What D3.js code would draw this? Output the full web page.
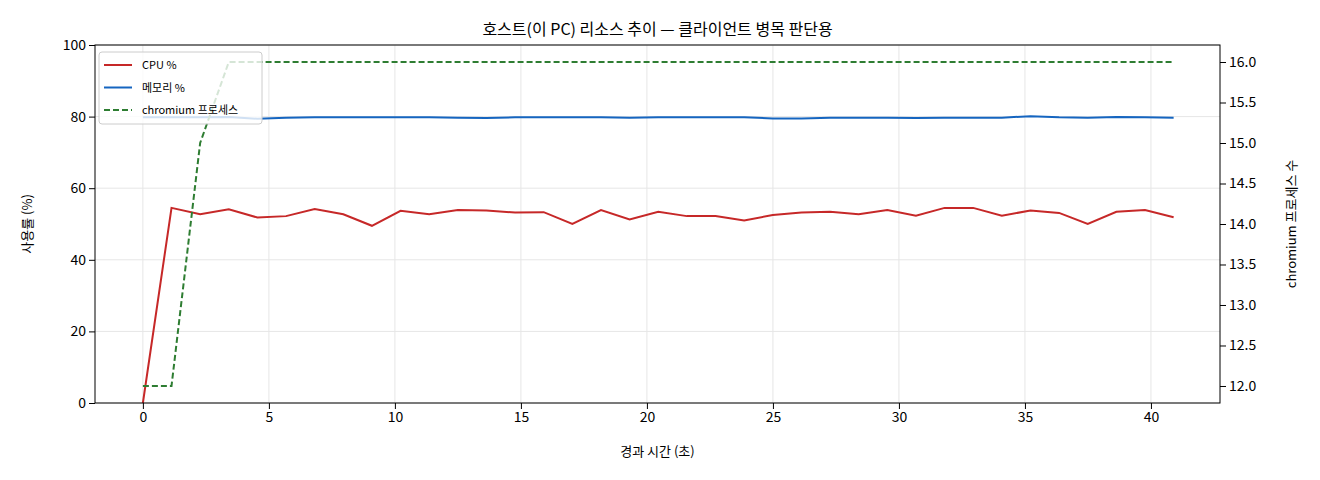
<!DOCTYPE html>
<html><head><meta charset="utf-8">
<script src="https://cdn.jsdelivr.net/npm/d3@7"></script>
<style>body{margin:0;background:#fff}text{font-family:"Noto Sans CJK KR","DejaVu Sans",sans-serif}</style>
</head><body><svg id="c" width="1320" height="480"></svg>
<script>
const step = 40.9/36;
const cpu = [0,54.5,52.7,54.1,51.8,52.2,54.2,52.7,49.5,53.7,52.7,53.9,53.8,53.2,53.3,50.0,53.9,51.3,53.4,52.2,52.2,51.0,52.5,53.2,53.4,52.7,53.9,52.3,54.5,54.5,52.3,53.8,53.1,50.0,53.4,53.9,51.9];
const mem = [79.8,79.8,79.8,79.9,79.4,79.7,79.8,79.8,79.8,79.8,79.8,79.7,79.6,79.8,79.8,79.8,79.8,79.7,79.8,79.8,79.8,79.8,79.5,79.5,79.7,79.7,79.7,79.6,79.7,79.7,79.7,80.1,79.8,79.7,79.9,79.8,79.7];
const procs = [12,12,15,16,16,16,16,16,16,16,16,16,16,16,16,16,16,16,16,16,16,16,16,16,16,16,16,16,16,16,16,16,16,16,16,16,16];
const xTicks = [0,5,10,15,20,25,30,35,40];
const yTicks = [0,20,40,60,80,100];
const y2Ticks = [12,12.5,13,13.5,14,14.5,15,15.5,16];
const times = cpu.map((_,i)=>i*step);

const svg = d3.select("#c");
const L=95,R=1220,T=45,B=403;
const x = d3.scaleLinear().domain([-1.9,42.74]).range([L,R]);
const y = d3.scaleLinear().domain([0,100]).range([B,T]);
const y2 = d3.scaleLinear().domain([11.79,16.21]).range([B,T]);
const g = svg.append("g");
g.selectAll(".gx").data(xTicks).join("line").attr("x1",d=>x(d)).attr("x2",d=>x(d)).attr("y1",T).attr("y2",B).attr("stroke","#e6e6e6");
g.selectAll(".gy").data(yTicks).join("line").attr("y1",d=>y(d)).attr("y2",d=>y(d)).attr("x1",L).attr("x2",R).attr("stroke","#e6e6e6");
const line = (arr,sc)=>d3.line().x((d,i)=>x(times[i])).y(d=>sc(d))(arr);
g.append("path").attr("d",line(cpu,y)).attr("fill","none").attr("stroke","#c62828").attr("stroke-width",2);
g.append("path").attr("d",line(mem,y)).attr("fill","none").attr("stroke","#1565c0").attr("stroke-width",2);
g.append("path").attr("d",line(procs,y2)).attr("fill","none").attr("stroke","#2e7d32").attr("stroke-width",2).attr("stroke-dasharray","6,3");
g.append("rect").attr("x",L).attr("y",T).attr("width",R-L).attr("height",B-T).attr("fill","none").attr("stroke","#000");
const ax = svg.append("g").attr("transform",`translate(0,${B})`).call(d3.axisBottom(x).tickValues(xTicks).tickSizeOuter(0));
const ay = svg.append("g").attr("transform",`translate(${L},0)`).call(d3.axisLeft(y).tickValues(yTicks).tickSizeOuter(0));
const ay2 = svg.append("g").attr("transform",`translate(${R},0)`).call(d3.axisRight(y2).tickValues(y2Ticks).tickFormat(d3.format(".1f")).tickSizeOuter(0));
[ax,ay,ay2].forEach(a=>{a.select(".domain").remove();a.selectAll("text").attr("font-size",14).attr("fill","#000").style("font-family","'Noto Sans CJK KR',sans-serif");a.selectAll("line").attr("stroke","#000");});
svg.append("text").attr("x",(L+R)/2).attr("y",35).attr("text-anchor","middle").attr("font-size",16).text("호스트(이 PC) 리소스 추이 — 클라이언트 병목 판단용");
svg.append("text").attr("x",(L+R)/2).attr("y",456).attr("text-anchor","middle").attr("font-size",13).text("경과 시간 (초)");
svg.append("text").attr("transform",`translate(32,${(T+B)/2}) rotate(-90)`).attr("text-anchor","middle").attr("font-size",13).text("사용률 (%)");
svg.append("text").attr("transform",`translate(1296,${(T+B)/2}) rotate(-90)`).attr("text-anchor","middle").attr("font-size",13).text("chromium 프로세스 수");
const lg = svg.append("g");
lg.append("rect").attr("x",99).attr("y",52).attr("width",163).attr("height",72).attr("rx",3).attr("fill","rgba(255,255,255,0.8)").attr("stroke","#ccc");
const items=[["CPU %","#c62828",null],["메모리 %","#1565c0",null],["chromium 프로세스","#2e7d32","6,3"]];
items.forEach((it,i)=>{const yy=65+i*22.5;
lg.append("line").attr("x1",104).attr("x2",132).attr("y1",yy).attr("y2",yy).attr("stroke",it[1]).attr("stroke-width",2).attr("stroke-dasharray",it[2]);
lg.append("text").attr("x",142).attr("y",yy+4).attr("font-size",11).text(it[0]);});
</script></body></html>
